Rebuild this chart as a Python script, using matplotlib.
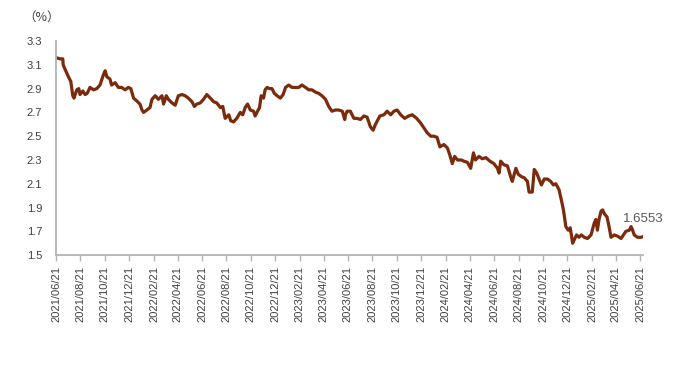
import pandas as pd
import matplotlib.pyplot as plt
import matplotlib.dates as mdates

# 数据：起始日后的天数 与 对应收益率(%)
start_date = "2021-06-21"
day_offsets = [
    0, 10, 17, 18, 23, 31, 37, 42, 45, 52, 57, 60, 67, 73, 78, 85, 94, 102, 110, 119,
    123, 127, 135, 139, 148, 156, 164, 173, 181, 187, 194, 204, 210, 215, 219, 227, 235, 240, 248, 256,
    265, 269, 276, 281, 290, 298, 306, 315, 323, 331, 340, 346, 352, 361, 369, 377, 386, 394, 402, 411,
    417, 423, 432, 437, 444, 452, 461, 467, 473, 479, 486, 494, 498, 504, 509, 513, 519, 523, 528, 534,
    540, 546, 553, 561, 568, 574, 582, 590, 599, 607, 615, 624, 632, 640, 649, 657, 665, 674, 682, 690,
    699, 707, 716, 722, 724, 728, 736, 745, 753, 761, 770, 778, 786, 793, 799, 810, 820, 828, 837, 845,
    853, 862, 872, 882, 891, 902, 912, 920, 928, 937, 945, 953, 960, 970, 979, 985, 991, 997, 1004, 1014,
    1020, 1029, 1037, 1044, 1049, 1058, 1066, 1075, 1085, 1095, 1104, 1108, 1112, 1120, 1129, 1137, 1141, 1150, 1156, 1164,
    1171, 1179, 1183, 1191, 1196, 1202, 1208, 1214, 1221, 1229, 1237, 1244, 1250, 1258, 1264, 1269, 1275, 1281, 1286, 1292,
    1296, 1302, 1308, 1314, 1321, 1329, 1338, 1342, 1346, 1350, 1354, 1358, 1363, 1367, 1371, 1378, 1383, 1388, 1396, 1404,
    1413, 1419, 1425, 1434, 1438, 1442, 1446, 1454, 1463, 1468,
]
yields = [
    3.16, 3.15, 3.15, 3.10, 3.06, 3.00, 2.96, 2.84, 2.82, 2.89, 2.90, 2.85, 2.88, 2.85, 2.86, 2.91, 2.89, 2.90, 2.93, 3.02,
    3.05, 3.00, 2.98, 2.93, 2.95, 2.91, 2.91, 2.89, 2.91, 2.90, 2.82, 2.79, 2.77, 2.72, 2.70, 2.72, 2.74, 2.81, 2.84, 2.81,
    2.84, 2.77, 2.84, 2.81, 2.78, 2.76, 2.84, 2.85, 2.84, 2.82, 2.79, 2.75, 2.77, 2.78, 2.81, 2.85, 2.82, 2.79, 2.78, 2.74,
    2.75, 2.65, 2.68, 2.63, 2.62, 2.65, 2.70, 2.68, 2.74, 2.77, 2.72, 2.71, 2.67, 2.71, 2.74, 2.84, 2.82, 2.89, 2.91, 2.90,
    2.90, 2.86, 2.84, 2.82, 2.85, 2.91, 2.93, 2.91, 2.91, 2.91, 2.93, 2.91, 2.89, 2.89, 2.87, 2.86, 2.84, 2.81, 2.75, 2.71,
    2.72, 2.72, 2.71, 2.64, 2.68, 2.71, 2.71, 2.65, 2.65, 2.64, 2.67, 2.66, 2.58, 2.55, 2.60, 2.67, 2.68, 2.71, 2.68, 2.71,
    2.72, 2.68, 2.65, 2.67, 2.68, 2.65, 2.61, 2.57, 2.53, 2.50, 2.50, 2.49, 2.41, 2.43, 2.40, 2.34, 2.27, 2.33, 2.30, 2.30,
    2.29, 2.28, 2.23, 2.36, 2.30, 2.33, 2.31, 2.32, 2.29, 2.27, 2.23, 2.19, 2.29, 2.26, 2.25, 2.16, 2.12, 2.23, 2.18, 2.16,
    2.15, 2.12, 2.03, 2.03, 2.22, 2.19, 2.14, 2.09, 2.14, 2.14, 2.12, 2.09, 2.10, 2.05, 1.96, 1.88, 1.74, 1.71, 1.73, 1.60,
    1.63, 1.67, 1.65, 1.67, 1.65, 1.64, 1.67, 1.72, 1.77, 1.80, 1.71, 1.80, 1.87, 1.88, 1.85, 1.82, 1.74, 1.65, 1.67, 1.66,
    1.64, 1.67, 1.70, 1.71, 1.74, 1.71, 1.67, 1.65, 1.65, 1.6553,
]
last_label = "1.6553"
y_ticks = [1.5, 1.7, 1.9, 2.1, 2.3, 2.5, 2.7, 2.9, 3.1, 3.3]

line_color = "#7b2a0c"
axis_color = "#b4b4b4"
text_color = "#404040"

dates = pd.Timestamp(start_date) + pd.to_timedelta(day_offsets, unit="D")
x_ticks = pd.date_range(start_date, "2025-06-21", freq=pd.DateOffset(months=2))

plt.rcParams["font.family"] = ["Liberation Sans", "DejaVu Sans"]

fig = plt.figure(figsize=(7.0, 3.73), dpi=100)
ax = fig.add_axes([0.08, 0.316, 0.8386, 0.574])

ax.plot(dates, yields, color=line_color, linewidth=2.3, solid_joinstyle="round")

ax.set_ylim(1.5, 3.3)
ax.set_yticks(y_ticks)
ax.set_yticklabels([f"{v:.1f}" for v in y_ticks])
ax.set_xlim(dates[0], dates[-1])
ax.set_xticks(x_ticks)
ax.xaxis.set_major_formatter(mdates.DateFormatter("%Y/%m/%d"))
plt.setp(ax.get_xticklabels(), rotation=90)

for side in ["top", "right"]:
    ax.spines[side].set_visible(False)
for side in ["left", "bottom"]:
    ax.spines[side].set_color(axis_color)
    ax.spines[side].set_linewidth(1.3)

ax.tick_params(axis="y", length=0, pad=10, labelsize=8, labelcolor=text_color)
ax.tick_params(axis="x", length=4, width=1, color=axis_color, pad=4,
               labelsize=8, labelcolor=text_color)

# 最新值标注
ax.text(dates[-1], 1.80, last_label, ha="center", va="center",
        fontsize=9.5, color="#595959", clip_on=False)
fig.text(0.033, 0.953, "（%）", ha="left", va="center", fontsize=9,
         color=text_color, family=["Noto Sans CJK SC", "DejaVu Sans"])

fig.savefig("out.png", dpi=100)
